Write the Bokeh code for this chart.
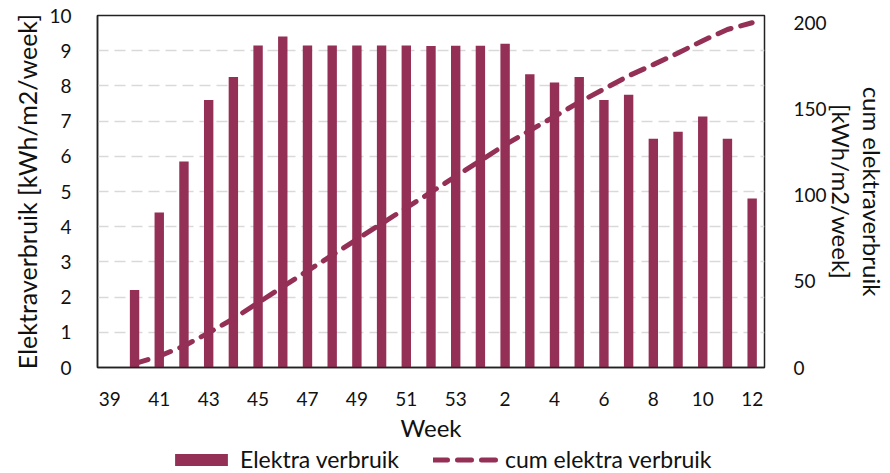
from bokeh.plotting import figure
from bokeh.layouts import column
from bokeh.models import (Range1d, LinearAxis, FixedTicker, Legend,
                          LegendItem, ColumnDataSource)
from bokeh.embed import file_html
from bokeh.resources import INLINE

# ---- data ----
weeks = ["39", "40", "41", "42", "43", "44", "45", "46", "47", "48", "49", "50",
         "51", "52", "53", "1", "2", "3", "4", "5", "6", "7", "8", "9", "10",
         "11", "12"]
bar_weeks = ["40", "41", "42", "43", "44", "45", "46", "47", "48", "49", "50",
             "51", "52", "53", "1", "2", "3", "4", "5", "6", "7", "8", "9", "10",
             "11", "12"]
elektra_verbruik = [2.2, 4.4, 5.85, 7.6, 8.25, 9.15, 9.4, 9.15, 9.15, 9.15, 9.15,
                    9.15, 9.13, 9.14, 9.14, 9.2, 8.33, 8.1, 8.25, 7.6, 7.75, 6.5,
                    6.7, 7.13, 6.5, 4.8]
cum_elektra_verbruik = [2.2, 6.6, 12.5, 20.1, 28.3, 37.5, 46.9, 56.0, 65.2, 74.3,
                        83.5, 92.6, 101.7, 110.9, 120.0, 129.2, 137.5, 145.6, 153.9,
                        161.5, 169.2, 175.7, 182.4, 189.6, 196.1, 200.0]
x_tick_labels = ["39", "41", "43", "45", "47", "49", "51", "53", "2", "4", "6",
                 "8", "10", "12"]
left_ticks = [0, 1, 2, 3, 4, 5, 6, 7, 8, 9, 10]
right_ticks = [0, 50, 100, 150, 200]

BAR = "#942F55"
FONT = "Lato"
TXT = "#111111"

# category positions on a numeric axis (index of each week in the category list)
pos = {w: i for i, w in enumerate(weeks)}
src = ColumnDataSource(dict(x=[pos[w] for w in bar_weeks], val=elektra_verbruik,
                            cum=cum_elektra_verbruik))

MAIN_H = 444
p = figure(width=890, height=MAIN_H, x_range=Range1d(-0.5, len(weeks) - 0.5),
           y_range=Range1d(0, 10), output_backend="svg", toolbar_location=None,
           min_border_left=97, min_border_right=121, min_border_top=15,
           min_border_bottom=MAIN_H - 367)
p.extra_y_ranges = {"cum": Range1d(0, 204.2)}

p.vbar(x="x", top="val", width=0.38, source=src, fill_color=BAR, line_color=None)
p.line(x="x", y="cum", source=src, y_range_name="cum", line_color=BAR,
       line_width=5, line_dash="14 10", line_cap="round")

p.outline_line_color = "#222222"
p.outline_line_width = 1.5
p.xgrid.grid_line_color = None
p.ygrid.grid_line_color = "#d9d9d9"
p.ygrid.grid_line_width = 1.5
p.ygrid.grid_line_dash = "11 6"
p.ygrid.ticker = FixedTicker(ticks=left_ticks[1:-1])

# x axis
xa = p.xaxis[0]
xa.ticker = FixedTicker(ticks=[pos[w] for w in x_tick_labels])
xa.major_label_overrides = {pos[w]: w for w in x_tick_labels}
xa.axis_label = "Week"

# left axis
ya = p.yaxis[0]
ya.ticker = FixedTicker(ticks=left_ticks)
ya.axis_label = "Elektraverbruik [kWh/m2/week]"

# right axis
ra = LinearAxis(y_range_name="cum", ticker=FixedTicker(ticks=right_ticks),
                axis_label="cum elektraverbruik\n[kWh/m2/week]")
p.add_layout(ra, "right")

for ax in [xa, ya, ra]:
    ax.major_tick_line_color = None
    ax.minor_tick_line_color = None
    ax.axis_line_color = "#222222"
    ax.axis_line_width = 1.5
    ax.major_label_text_font = FONT
    ax.major_label_text_font_size = "19px"
    ax.major_label_text_color = TXT
    ax.axis_label_text_font = FONT
    ax.axis_label_text_font_size = "24px"
    ax.axis_label_text_font_style = "normal"
    ax.axis_label_text_color = TXT

ya.axis_label_text_font_size = "25px"
xa.major_label_standoff = 18
xa.axis_label_standoff = 4
ya.major_label_standoff = 20
ya.axis_label_standoff = 4
ra.major_label_standoff = 23
ra.axis_label_standoff = -3
ra.axis_label_text_line_height = 1.1
ra.axis_line_color = None

# ---- legend strip below the chart (same data; glyphs kept outside its view) ----
# (the column aligns this strip's frame with the chart's frame, left edge x=97)
leg = figure(width=890, height=473 - MAIN_H, x_range=Range1d(1000, 1001),
             y_range=Range1d(1000, 1001), output_backend="svg",
             toolbar_location=None, min_border=0)
leg.extra_y_ranges = {"cum": Range1d(1000, 1001)}
lb = leg.vbar(x="x", top="val", width=0.38, source=src, fill_color=BAR,
              line_color=None)
ll = leg.line(x="x", y="cum", source=src, y_range_name="cum", line_color=BAR,
              line_width=5, line_dash="14 10", line_cap="round")
leg.axis.visible = False
leg.grid.visible = False
leg.outline_line_color = None

legend = Legend(items=[LegendItem(label="Elektra verbruik", renderers=[lb]),
                       LegendItem(label="cum elektra verbruik", renderers=[ll])],
                orientation="horizontal", location=(71, 0),
                border_line_color=None, background_fill_alpha=0,
                glyph_width=66, glyph_height=15, label_standoff=6, spacing=34,
                padding=0, margin=0, label_text_font=FONT,
                label_text_font_size="23px", label_text_color=TXT)
leg.add_layout(legend, "center")

layout = column(p, leg, spacing=0)
open("out.html", "w").write(file_html(layout, INLINE))
